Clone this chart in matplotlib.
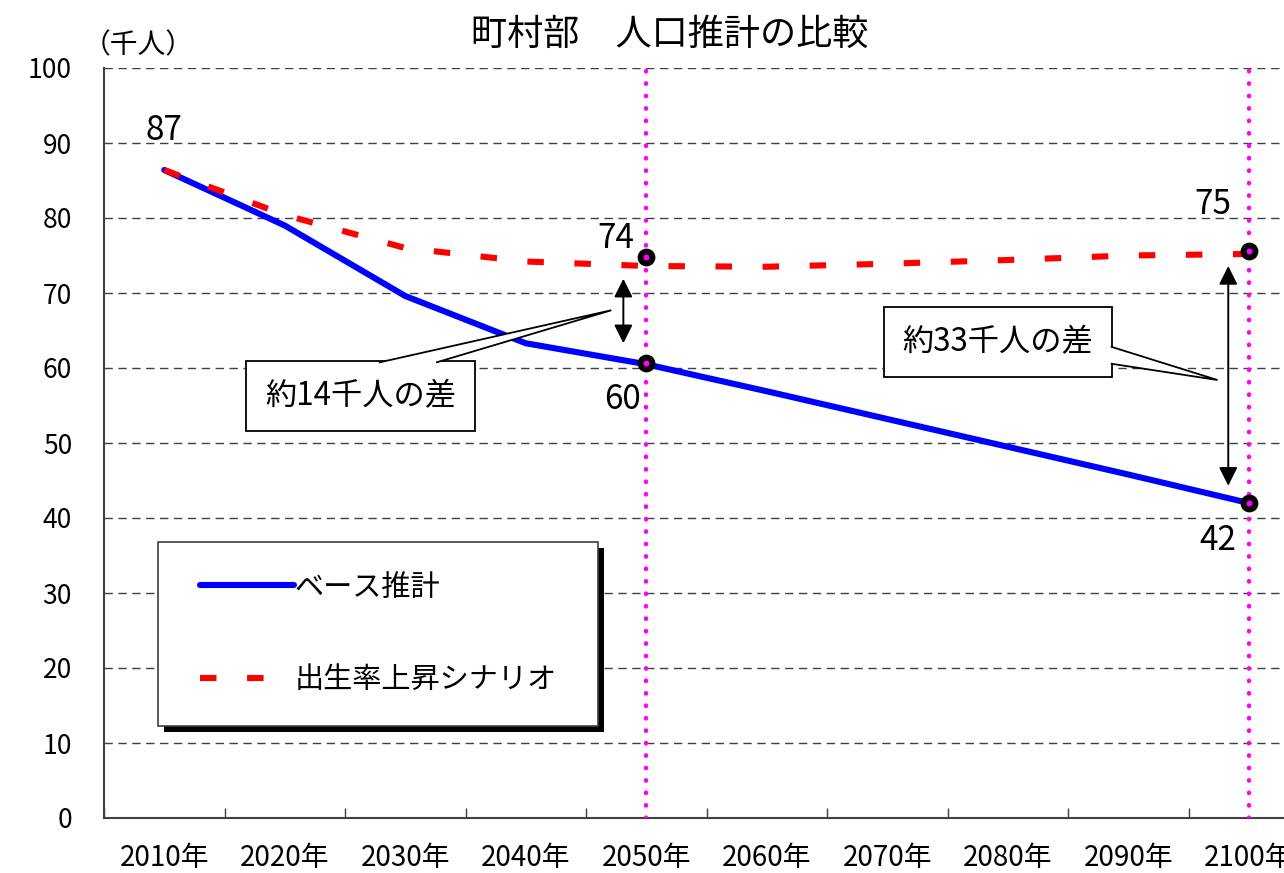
import matplotlib
matplotlib.use('Agg')
import matplotlib.pyplot as plt
from matplotlib.lines import Line2D
from matplotlib.legend_handler import HandlerLine2D
from matplotlib.patches import Rectangle, Polygon
from matplotlib.transforms import IdentityTransform

plt.rcParams['font.family'] = ['Noto Sans CJK JP', 'DejaVu Sans']

# データ（千人）
years = ['2010年', '2020年', '2030年', '2040年', '2050年',
         '2060年', '2070年', '2080年', '2090年', '2100年']
base = [86.4, 79.0, 69.6, 63.3, 60.5, 56.9, 53.2, 49.5, 45.8, 42.0]
high = [86.4, 80.4, 76.0, 74.2, 73.6, 73.5, 73.9, 74.4, 75.0, 75.2]

# 強調点（2050年・2100年）
mark_idx = [4, 9]
base_mark = [60.7, 42.0]
high_mark = [74.8, 75.6]
base_labels = ['60', '42']
high_labels = ['74', '75']
start_label = '87'

W, H = 1284, 873
fig = plt.figure(figsize=(W / 100, H / 100), dpi=100)
ax = fig.add_axes([104 / W, (H - 818) / H, 1205 / W, 750 / H])

x = list(range(len(years)))
ax.plot(x, base, color='#0000FF', lw=4.4, solid_joinstyle='round',
        solid_capstyle='round', zorder=3)
ax.plot(x, high, color='#FF0000', lw=4.4, linestyle=(0, (2.7, 5.0)),
        dash_capstyle='butt', zorder=4)

for i in mark_idx:
    ax.axvline(i, color='#FF00FF', lw=3.2, linestyle=(0, (0.1, 2.7)),
               dash_capstyle='round', zorder=5)

ax.plot(mark_idx, base_mark, 'o', ms=8.6, mfc='#FF00FF', mec='black', mew=4.2, zorder=6)
ax.plot(mark_idx, high_mark, 'o', ms=8.6, mfc='#FF00FF', mec='black', mew=4.2, zorder=6)

# 数値ラベル
ax.annotate(start_label, (0, base[0]), xytext=(0, 39), textcoords='offset pixels',
            ha='center', va='center', fontsize=24)
for i, v, s in zip(mark_idx, high_mark, high_labels):
    off = (-30, 19) if i == 4 else (-36, 46)
    ax.annotate(s, (i, v), xytext=off, textcoords='offset pixels',
                ha='center', va='center', fontsize=24)
for i, v, s in zip(mark_idx, base_mark, base_labels):
    off = (-24, -37) if i == 4 else (-31, -37)
    ax.annotate(s, (i, v), xytext=off, textcoords='offset pixels',
                ha='center', va='center', fontsize=24)

# 差の矢印
arr = dict(arrowstyle='<|-|>', color='black', lw=1.4, mutation_scale=28,
           shrinkA=0, shrinkB=0)
ax.annotate('', xy=(3.81, 63.3), xytext=(3.81, 71.9), arrowprops=arr, zorder=5)
ax.annotate('', xy=(8.83, 44.3), xytext=(8.83, 73.6), arrowprops=arr, zorder=5)

# 吹き出し（テキスト枠）
box = dict(boxstyle='square,pad=0.6', fc='white', ec='black', lw=1.3)
t1 = ax.text(1.63, 56.3, '約14千人の差', ha='center', va='center',
             fontsize=22.5, bbox=box, zorder=7)
t2 = ax.text(6.92, 63.5, '約33千人の差', ha='center', va='center',
             fontsize=22.5, bbox=box, zorder=7)

ax.set_xlim(-0.5, 9.5)
ax.set_ylim(0, 100)
ax.set_xticks(x)
ax.set_xticklabels(years, fontsize=20)
ax.set_xticks([k + 0.5 for k in range(-1, 10)], minor=True)
ax.tick_params(axis='x', which='major', length=0, pad=18)
ax.tick_params(axis='x', which='minor', direction='in', length=7, width=1, color='#404040')
ax.set_yticks(range(0, 101, 10))
ax.tick_params(axis='y', labelsize=19, length=0, pad=23)
ax.grid(axis='y', color='#404040', lw=1, linestyle=(0, (6, 4)))
for s in ['top', 'right']:
    ax.spines[s].set_visible(False)
for s in ['left', 'bottom']:
    ax.spines[s].set_color('#404040')
    ax.spines[s].set_linewidth(1.5)

fig.text(670 / W, 1 - 35 / H, '町村部　人口推計の比較', ha='center', va='center', fontsize=26)
fig.text(138 / W, 1 - 45 / H, '（千人）', ha='center', va='center', fontsize=20)

# 凡例
handles = [Line2D([], [], color='#0000FF', lw=4.4, solid_capstyle='round'),
           Line2D([], [], color='#FF0000', lw=4.4, linestyle=(0, (2.7, 5.0)))]
leg = ax.legend(handles, ['ベース推計', '出生率上昇シナリオ'], loc='upper left',
                bbox_to_anchor=(0.0448, 0.124, 0.365, 0.244), mode='expand',
                borderaxespad=0, fontsize=21,
                frameon=True, fancybox=False, edgecolor='#404040', framealpha=1,
                handlelength=3.6, handletextpad=0.02, labelspacing=2.15,
                borderpad=1.05, handler_map={Line2D: HandlerLine2D(xpad=0.4)})
leg.set_zorder(8)
leg.get_frame().set_linewidth(1.2)

fig.canvas.draw()

# 凡例の影
bb = leg.get_window_extent()
ax.add_artist(Rectangle((bb.x0 + 6, bb.y0 - 6), bb.width, bb.height, fc='black', ec='none',
                        transform=IdentityTransform(), zorder=7.9, clip_on=False))

# 吹き出しの三角
def callout(txt, tip, side, f0, f1):
    b = txt.get_bbox_patch().get_window_extent()
    tx, ty = ax.transData.transform(tip)
    if side == 'top':
        p0 = (b.x0 + f0 * b.width, b.y1 - 1.5)
        p1 = (b.x0 + f1 * b.width, b.y1 - 1.5)
    else:
        p0 = (b.x1 - 1.5, b.y1 - f0 * b.height)
        p1 = (b.x1 - 1.5, b.y1 - f1 * b.height)
    ax.add_artist(Polygon([p0, (tx, ty), p1], closed=False, fc='white', ec='black',
                          lw=1.3, transform=IdentityTransform(), zorder=7.5,
                          clip_on=False))

callout(t1, (3.71, 67.7), 'top', 0.58, 0.83)
callout(t2, (8.74, 58.4), 'right', 0.57, 0.815)

fig.savefig('out.png', dpi=100)
